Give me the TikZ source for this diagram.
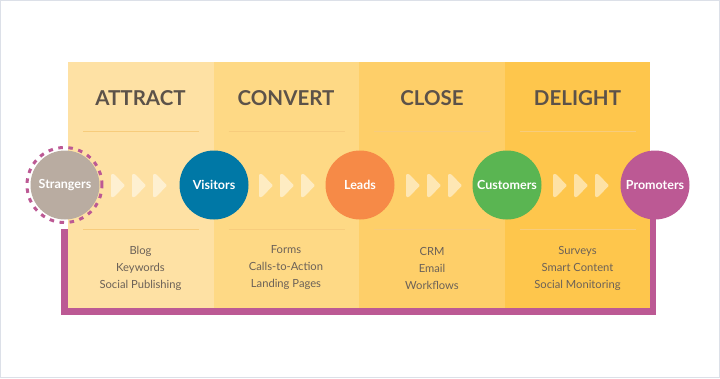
\documentclass[tikz,border=0pt]{standalone}
\usepackage{fontspec}
\setmainfont{Lato}
\usepackage{tikz}
\usetikzlibrary{arrows.meta,positioning,calc,backgrounds}
\definecolor{inbound@attract}{HTML}{FEE1A4}
\definecolor{inbound@convert}{HTML}{FED985}
\definecolor{inbound@close}{HTML}{FECF69}
\definecolor{inbound@delight}{HTML}{FEC64C}
\definecolor{inbound@rule}{HTML}{F7CC7C}
\definecolor{inbound@head}{HTML}{5C5249}
\definecolor{inbound@text}{HTML}{6B6158}
\definecolor{inbound@purple}{HTML}{BC5994}
\definecolor{inbound@taupe}{HTML}{B9ACA1}
\definecolor{inbound@blue}{HTML}{0078A6}
\definecolor{inbound@orange}{HTML}{F68A47}
\definecolor{inbound@green}{HTML}{5AB552}
\definecolor{inbound@frame}{HTML}{DCE0E8}
\tikzset{
  inbound/.style={
    x=1pt, y=-1pt,
    line width=0.5pt,
    every node/.style={font=\small}
  },
  colbox/.style={                  % stage column
    rectangle, inner sep=0pt,
    minimum width=145.5pt,
    minimum height=246pt,
    anchor=north west
  },
  colhead/.style={
    font=\fontsize{20.5}{24}\selectfont\bfseries,
    text=inbound@head
  },
  colrule/.style={draw=inbound@rule, line width=0.8pt},
  collist/.style={
    font=\fontsize{11.2}{17}\selectfont,
    text=inbound@text,
    align=center
  },
  stagenode/.style={               % lifecycle stage
    circle, inner sep=0pt,
    minimum size=69pt,
    font=\fontsize{12.5}{14}\selectfont\bfseries,
    text=white
  },
  ringnode/.style={
    circle, inner sep=0pt,
    minimum size=75pt,
    draw=inbound@purple, line width=3pt,
    dash pattern=on 4.5pt off 5.6pt
  },
  chev/.style={fill=white, fill opacity=0.5, rounded corners=1pt},
  loopline/.style={draw=inbound@purple, line width=6.5pt}
}
\begin{document}
\begin{tikzpicture}[inbound]
\useasboundingbox (0,0) rectangle (720,378);
\draw[draw=inbound@frame, line width=1pt] (0.5,0.5) rectangle (719.5,377.5);

% Columns
\node[colbox, fill=inbound@attract] (attractcol) at (68,62) {};
\node[colbox, fill=inbound@convert] (convertcol) at (213.5,62) {};
\node[colbox, fill=inbound@close]   (closecol)   at (359,62) {};
\node[colbox, fill=inbound@delight] (delightcol) at (504.5,62) {};

% Headers
\node[colhead] (attracthead) at (140.5,98) {ATTRACT};
\node[colhead] (converthead) at (286,98) {CONVERT};
\node[colhead] (closehead)   at (432,98) {CLOSE};
\node[colhead] (delighthead) at (577.5,98) {DELIGHT};

% Rules above and below the stage row
\foreach \c in {attract,convert,close,delight}{
  \draw[colrule] ($(\c col.north west)+(15,69)$) -- ($(\c col.north east)+(-15,69)$);
  \draw[colrule] ($(\c col.north west)+(15,167)$) -- ($(\c col.north east)+(-15,167)$);
}

% Tools per column
\node[collist] (attractlist) at (140.5,268) {Blog\\Keywords\\Social Publishing};
\node[collist] (convertlist) at (286,268) {Forms\\Calls-to-Action\\Landing Pages};
\node[collist] (closelist)   at (432,268) {CRM\\Email\\Workflows};
\node[collist] (delightlist) at (577.5,268) {Surveys\\Smart Content\\Social Monitoring};

% Chevrons
\foreach \x in {111,132,153,259,280,301,406,427,448,553,574,595}
  \fill[chev] (\x,174) -- ++(3,0) -- ++(11,11.5) -- ++(-11,11.5) -- ++(-3,0) -- cycle;

% Stages
\node[ringnode] (strangersring) at (64.5,185) {};
\node[stagenode, fill=inbound@taupe]  (strangers) at (65,185)  {Strangers};
\node[stagenode, fill=inbound@blue]   (visitors)  at (214,185) {Visitors};
\node[stagenode, fill=inbound@orange] (leads)     at (360,185) {Leads};
\node[stagenode, fill=inbound@green]  (customers) at (507,185) {Customers};
\node[stagenode, fill=inbound@purple] (promoters) at (655,185) {Promoters};

% Return loop
\coordinate (loopcorner) at (653,311.5);
\begin{scope}[on background layer]
\fill[white] (0,0) rectangle (720,378);
\draw[loopline] ([yshift=-5pt]strangersring.south) |- (loopcorner) -- (loopcorner |- promoters);
\end{scope}
\end{tikzpicture}
\end{document}
